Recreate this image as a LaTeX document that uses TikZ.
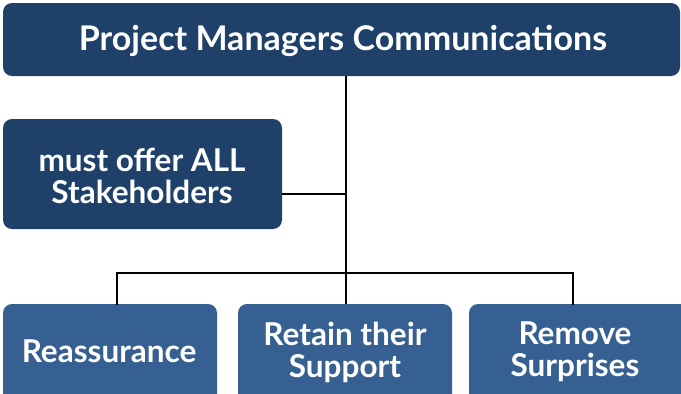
\documentclass[tikz,border=0pt]{standalone}
\usepackage{fontspec}
\setmainfont{Lato}
\definecolor{darkbox}{HTML}{1F4068}
\definecolor{lightbox}{HTML}{376092}
\tikzset{
  lbl/.style={text=white, font=\bfseries\fontsize{31.5}{32}\selectfont, align=center, inner sep=0pt},
  conn/.style={line width=2.6pt, draw=black}
}
\begin{document}
\begin{tikzpicture}[x=1pt,y=-1pt]
\useasboundingbox (0,0) rectangle (681,394);
\clip (0,0) rectangle (681,394);
% boxes
\fill[darkbox, rounded corners=9pt] (3,3) rectangle (680,76);
\fill[darkbox, rounded corners=9pt] (3,119) rectangle (282,229);
\fill[lightbox, rounded corners=9pt] (3,304) rectangle (217,410);
\fill[lightbox, rounded corners=9pt] (238,304) rectangle (452,410);
\fill[lightbox, rounded corners=9pt] (469,304) rectangle (690,410);
% anchor points
\coordinate (topb) at (346,76);
\coordinate (leftr) at (282,194);
\coordinate (join) at (346,194);
\coordinate (barl) at (117,273);
\coordinate (barr) at (573,273);
\coordinate (b1) at (117,304);
\coordinate (b2) at (346,304);
\coordinate (b3) at (573,304);
% connectors
\draw[conn] (topb) -- (b2);
\draw[conn] (leftr) -- (join);
\draw[conn, line cap=rect] (b1) -- (barl) -- (barr) -- (b3);
% labels
\node[lbl, font=\bfseries\fontsize{34}{34}\selectfont] (t) at (343,41) {Project Managers Communications};
\node[lbl] (l) at (142,176) {must offer ALL\\Stakeholders};
\node[lbl] (r1) at (109,351) {Reassurance};
\node[lbl] (r2) at (345,352) {Retain their\\Support};
\node[lbl] (r3) at (575,352) {Remove\\Surprises};
\end{tikzpicture}
\end{document}
